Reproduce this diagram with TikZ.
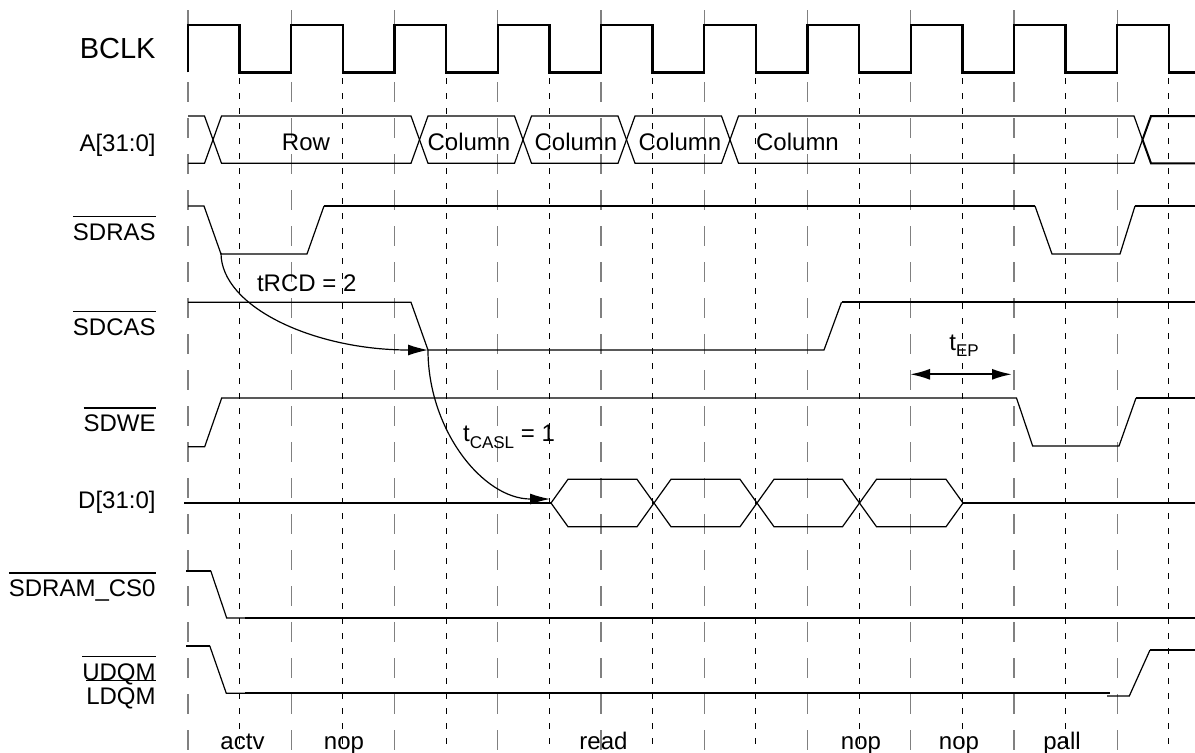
\documentclass[tikz,border=0pt]{standalone}
\usepackage{fontspec}
\setmainfont{Liberation Sans}
\usetikzlibrary{arrows.meta}

% active-low name with a bar over it
\newcommand{\nbar}[1]{\vbox{\hrule height 0.8pt\kern 3pt\hbox{#1}}}
\newcommand{\subtx}[1]{\raisebox{-3.3pt}{\fontsize{8.5}{9}\selectfont #1}}
\newcommand{\dqmlabel}{\vbox{\baselineskip=12pt\lineskiplimit=-20pt\halign{\hfil##\cr\nbar{UDQM}\cr\nbar{LDQM}\cr}}}
\newcommand{\clkper}{103.25}

\tikzset{
  clk/.style={line width=1.2pt},
  sig/.style={line width=0.6pt},
  sigthick/.style={line width=1pt},
  edgeline/.style={gray, line width=0.65pt, dash pattern=on 10pt off 8pt},
  halfline/.style={black, line width=0.4pt, dash pattern=on 3pt off 4.5pt},
  lbl/.style={anchor=base east, font=\fontsize{12}{12}\selectfont, inner sep=0pt},
  txt/.style={anchor=base, font=\fontsize{12}{12}\selectfont, inner sep=0pt},
  tarrow/.style={line width=0.6pt, -{Latex[length=10pt,width=5.5pt]}},
}

\begin{document}
\begin{tikzpicture}[x=0.5pt, y=-0.5pt]
      \useasboundingbox (0,0) rectangle (1195,752);
      % Clock edge grid
      \foreach \k in {0,...,9} {
        \draw[edgeline] ({188+\k*\clkper},10) -- ({188+\k*\clkper},752);
        \draw[halfline] ({239.6+\k*\clkper},78) -- ({239.6+\k*\clkper},752);
      }
      % Signal names
      \node[lbl, font=\fontsize{14.5}{14.5}\selectfont] (lbclk) at (156,58.3) {BCLK};
      \node[lbl] (laddr) at (156,151.7) {A[31:0]};
      \node[lbl] (lras) at (156,240) {\nbar{SDRAS}};
      \node[lbl] (lcas) at (156,335) {\nbar{SDCAS}};
      \node[lbl] (lwe) at (156,431.7) {\nbar{SDWE}};
      \node[lbl] (ldata) at (156,508.5) {D[31:0]};
      \node[lbl] (lcs) at (156,596.7) {\nbar{SDRAM\_CS0}};
      \node[lbl] (ldqm) at (156,704) {\dqmlabel};
      % BCLK
      \draw[clk] (188,72.3) \foreach \k in {0,...,9} {
        -- ({188+\k*\clkper},24.7) -- ({239.6+\k*\clkper},24.7)
        -- ({239.6+\k*\clkper},72.3) -- ({min(291.25+\k*\clkper,1195)},72.3)};
      % A[31:0]
      \draw[sig] (188,116) -- (204.5,116) -- (213,139.7) -- (204.5,163.3) -- (188,163.3);
      \foreach \a/\b in {213/419.5, 419.5/523, 523/626.5, 626.5/730, 730/1142.5}
        \draw[sig] (\a,139.7) -- (\a+8.5,116) -- (\b-8.5,116) -- (\b,139.7)
          -- (\b-8.5,163.3) -- (\a+8.5,163.3) -- cycle;
      \draw[sigthick] (1195,116) -- (1151,116) -- (1142.5,139.7) -- (1151,163.3) -- (1195,163.3);
      \node[txt] (arow) at (306,150) {Row};
      \node[txt] (acol1) at (469,150) {Column};
      \node[txt] (acol2) at (576,150) {Column};
      \node[txt] (acol3) at (680,150) {Column};
      \node[txt] (acol4) at (797.5,150) {Column};
      % SDRAS
      \draw[sig] (188,206) -- (204,206) -- (221,254) -- (307,254) -- (324,206);
      \draw[sigthick] (324,206) -- (1035,206);
      \draw[sig] (1035,206) -- (1052,254) -- (1120,254) -- (1135,206);
      \draw[sigthick] (1135,206) -- (1195,206);
      % SDCAS
      \draw[sig] (188,302.3) -- (411,302.3) -- (428,350) -- (824,350) -- (841.5,302.3);
      \draw[sigthick] (841.5,302.3) -- (1195,302.3);
      % SDWE
      \draw[sig] (188,446.7) -- (204.7,446.7) -- (221.7,398) -- (1016.5,398)
        -- (1032.7,446) -- (1119,446) -- (1136,398);
      \draw[sigthick] (1136,398) -- (1195,398);
      % D[31:0]
      \draw[sig] (184,503) -- (551,503);
      \foreach \a/\b in {551/654, 654/757, 757/859.5, 859.5/963}
        \draw[sig] (\a,503) -- (\a+17,479.3) -- (\b-17,479.3) -- (\b,503)
          -- (\b-17,526.7) -- (\a+17,526.7) -- cycle;
      \draw[sigthick] (963,503) -- (1195,503);
      % SDRAM_CS0
      \draw[sigthick] (186,570.7) -- (210.7,570.7);
      \draw[sig] (210.7,570.7) -- (226.7,618) -- (245,618);
      \draw[sigthick] (245,618) -- (1195,618);
      % UDQM / LDQM
      \draw[sigthick] (186,645.7) -- (209.7,645.7);
      \draw[sig] (209.7,645.7) -- (226.3,693.3) -- (245,693.3);
      \draw[sigthick] (245,693.3) -- (1110,693.3);
      \draw[sig] (1107,696) -- (1129.3,696) -- (1150,650);
      \draw[sigthick] (1150,650) -- (1195,650);
      % Timing arrows
      \coordinate (rasfall) at (221,253);
      \coordinate (casfall) at (428,350);
      \coordinate (dopen) at (550,499);
      \draw[tarrow] (rasfall) .. controls (221,307) and (314,350) .. (casfall);
      \draw[tarrow] (casfall) .. controls (428,430) and (483,499) .. (dopen);
      \node[txt] (trcd) at (306.7,291.7) {tRCD = 2};
      \node[txt] (tcasl) at (509,441.7) {t\subtx{CASL} = 1};
      \coordinate (epa) at (910,374.3);
      \coordinate (epb) at (1012,374.3);
      \draw[line width=1pt, {Latex[length=10pt,width=5.5pt]}-{Latex[length=10pt,width=5.5pt]}] (epa) -- (epb);
      \node[txt] (tep) at (964,350) {t\subtx{EP}};
      % Commands
      \node[txt] (cactv) at (242.5,749) {actv};
      \node[txt] (cnop1) at (344,749) {nop};
      \node[txt] (cread) at (603.5,749) {read};
      \node[txt] (cnop2) at (861,749) {nop};
      \node[txt] (cnop3) at (959,749) {nop};
      \node[txt] (cpall) at (1062,749) {pall};
    \end{tikzpicture}
\end{document}
